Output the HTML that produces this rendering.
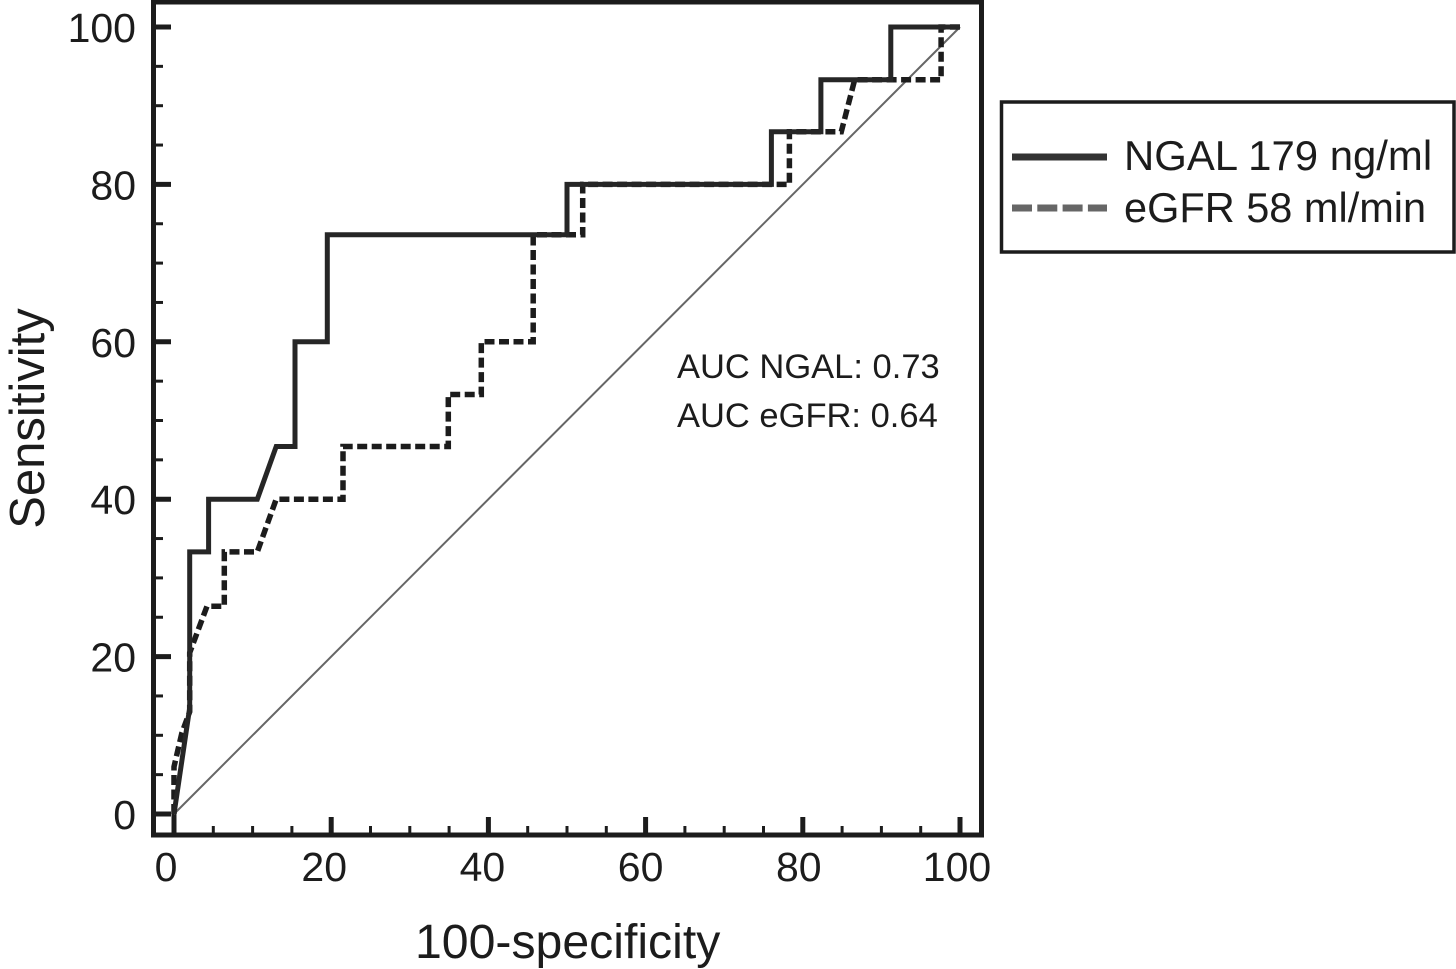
<!DOCTYPE html>
<html lang="en">
<head>
<meta charset="utf-8">
<title>ROC curves: NGAL and eGFR</title>
<style>
  html, body { margin: 0; padding: 0; background: #fff; }
  svg { display: block; }
  text { font-family: "Liberation Sans", sans-serif; fill: #1c1c1c; }
</style>
</head>
<body>
<svg id="chart" xmlns="http://www.w3.org/2000/svg" width="1456" height="969" viewBox="0 0 1456 969">
  <rect x="0" y="0" width="1456" height="969" fill="#fff"/>
  <g id="ticks"></g>
  <g id="tick-labels"></g>
  <g id="series"></g>
  <rect x="153.5" y="2" width="828" height="833" fill="none" stroke="#1c1c1c" stroke-width="5"/>
  <text x="415" y="958" font-size="48.2">100-specificity</text>
  <text transform="translate(44 418.5) rotate(-90)" text-anchor="middle" font-size="49">Sensitivity</text>
  <text x="677" y="378" font-size="34.5">AUC NGAL: 0.73</text>
  <text x="677" y="427" font-size="34.5">AUC eGFR: 0.64</text>
  <g>
    <rect x="1001.5" y="102" width="452.5" height="150" fill="#fff" stroke="#1c1c1c" stroke-width="3.5"/>
    <line x1="1012" y1="157" x2="1107" y2="157" stroke="#333" stroke-width="7"/>
    <text x="1124" y="170" font-size="41.9">NGAL 179 ng/ml</text>
    <line x1="1012" y1="208" x2="1107" y2="208" stroke="#666" stroke-width="7" stroke-dasharray="20 5.3"/>
    <text x="1124" y="222" font-size="41.5">eGFR 58 ml/min</text>
  </g>
</svg>
<script>
const xTickLabels = [0, 20, 40, 60, 80, 100];
const yTickLabels = [0, 20, 40, 60, 80, 100];
const minorTicks = [5, 10, 15, 25, 30, 35, 45, 50, 55, 65, 70, 75, 85, 90, 95];
const referenceX = [0, 100];
const referenceY = [0, 100];
const ngalX = [0, 2.0, 2.0, 4.4, 4.4, 10.6, 13.0, 15.4, 15.4, 19.5, 19.5, 50.0, 50.0, 76.0, 76.0, 82.3, 82.3, 91.2, 91.2, 100];
const ngalY = [0, 13.5, 33.3, 33.3, 40.0, 40.0, 46.7, 46.7, 60.0, 60.0, 73.6, 73.6, 80.0, 80.0, 86.7, 86.7, 93.3, 93.3, 100, 100];
const egfrX = [0, 0, 1.0, 2.0, 2.0, 4.2, 6.4, 6.4, 10.6, 13.0, 21.5, 21.5, 34.9, 34.9, 39.1, 39.1, 45.7, 45.7, 52.0, 52.0, 78.3, 78.3, 84.9, 86.6, 97.6, 97.6, 100];
const egfrY = [0, 6.0, 10.3, 13.0, 20.5, 26.4, 26.4, 33.3, 33.3, 40.0, 40.0, 46.7, 46.7, 53.3, 53.3, 60.0, 60.0, 73.6, 73.6, 80.0, 80.0, 86.7, 86.7, 93.3, 93.3, 100, 100];

const SVG_NS = 'http://www.w3.org/2000/svg';
function xScale(v) { return 174 + v * 7.86; }
function yScale(v) { return 814 - v * 7.87; }
function xLabelScale(v) { return 166 + v * 7.91; }

function makeLine(x1, y1, x2, y2, width) {
  const el = document.createElementNS(SVG_NS, 'line');
  el.setAttribute('x1', x1);
  el.setAttribute('y1', y1);
  el.setAttribute('x2', x2);
  el.setAttribute('y2', y2);
  el.setAttribute('stroke', '#1c1c1c');
  el.setAttribute('stroke-width', width);
  return el;
}

function makeLabel(x, y, anchor, content) {
  const el = document.createElementNS(SVG_NS, 'text');
  el.setAttribute('x', x);
  el.setAttribute('y', y);
  el.setAttribute('text-anchor', anchor);
  el.setAttribute('font-size', '41');
  el.textContent = content;
  return el;
}

function makeSeries(xs, ys) {
  const el = document.createElementNS(SVG_NS, 'polyline');
  el.setAttribute('points', xs.map(function (v, i) {
    return xScale(v).toFixed(1) + ',' + yScale(ys[i]).toFixed(1);
  }).join(' '));
  el.setAttribute('fill', 'none');
  return el;
}

const ticks = document.getElementById('ticks');
const labels = document.getElementById('tick-labels');
const series = document.getElementById('series');

xTickLabels.forEach(function (v) {
  const tick = makeLine(xScale(v), 835, xScale(v), 817, 5);
  
  
  ticks.appendChild(tick);
  const label = makeLabel(xLabelScale(v), 881, 'middle', String(v));
  
  
  labels.appendChild(label);
});

yTickLabels.forEach(function (v) {
  const tick = makeLine(154, yScale(v), 171, yScale(v), 5);
  
  
  ticks.appendChild(tick);
  const label = makeLabel(136, yScale(v) + 15, 'end', String(v));
  
  
  labels.appendChild(label);
});

minorTicks.forEach(function (v) {
  const xTick = makeLine(xScale(v), 835, xScale(v), 826, 3);
  
  
  ticks.appendChild(xTick);
  const yTick = makeLine(154, yScale(v), 163, yScale(v), 3);
  
  
  ticks.appendChild(yTick);
});

const zeroStem = makeLine(xScale(0), 835, xScale(0), 806, 5);


ticks.appendChild(zeroStem);

const referenceLine = makeSeries(referenceX, referenceY);


referenceLine.setAttribute('stroke', '#666');
referenceLine.setAttribute('stroke-width', '2');
series.appendChild(referenceLine);

const egfrLine = makeSeries(egfrX, egfrY);


egfrLine.setAttribute('stroke', '#1c1c1c');
egfrLine.setAttribute('stroke-width', '5.5');
egfrLine.setAttribute('stroke-dasharray', '10 4.5');
series.appendChild(egfrLine);

const ngalLine = makeSeries(ngalX, ngalY);


ngalLine.setAttribute('stroke', '#262626');
ngalLine.setAttribute('stroke-width', '5');
series.appendChild(ngalLine);
</script>
</body>
</html>
